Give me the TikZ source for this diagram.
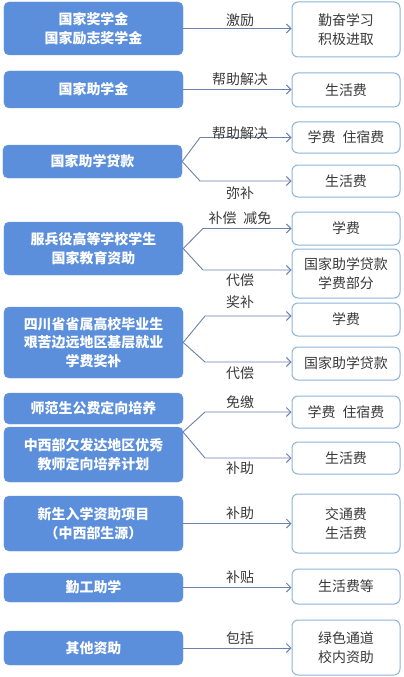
\documentclass[tikz,border=0pt]{standalone}
\usepackage{fontspec}
\newfontfamily\cjk{Noto Sans CJK SC}
\usetikzlibrary{arrows.meta}
\definecolor{lfill}{HTML}{5B8EDB}
\definecolor{rborder}{HTML}{8DB4D9}
\definecolor{arrcol}{HTML}{6C80AA}
\definecolor{txt}{HTML}{3A3A3A}
\tikzset{
  lbox/.style={draw=lfill!90!white, fill=lfill, rounded corners=5bp, minimum width=179bp,
    text=white, font=\cjk\bfseries\fontsize{14}{18.5}\selectfont, align=center, inner sep=0pt},
  rbox/.style={draw=rborder, fill=white, line width=1bp, rounded corners=6bp, minimum width=108bp,
    text=txt, font=\cjk\fontsize{14}{18.5}\selectfont, align=center, inner sep=0pt},
  lab/.style={text=txt, font=\cjk\fontsize{14}{16}\selectfont, inner sep=0pt},
  arr/.style={draw=arrcol, line width=0.9bp, -{Straight Barb[length=4.5bp,width=9bp,line width=0.9bp]}}
}
\begin{document}
\begin{tikzpicture}[x=1bp,y=-1bp]
\useasboundingbox (0,0) rectangle (403,677);
% left boxes
\node[lbox, minimum height=53bp] (l1) at (93.5,28.5) {国家奖学金\\国家励志奖学金};
\node[lbox, minimum height=37bp] (l2) at (93.5,89.5) {国家助学金};
\node[lbox, minimum height=33bp] (l3) at (92.5,161.5) {国家助学贷款};
\node[lbox, minimum height=53bp] (l4) at (93.5,248.5) {服兵役高等学校学生\\国家教育资助};
\node[lbox, minimum height=71bp] (l5) at (93.5,342.5) {四川省省属高校毕业生\\艰苦边远地区基层就业\\学费奖补};
\node[lbox, minimum height=31bp] (l6) at (93.5,408.5) {师范生公费定向培养};
\node[lbox, minimum height=55bp] (l7) at (93.5,454.5) {中西部欠发达地区优秀\\教师定向培养计划};
\node[lbox, minimum height=55bp] (l8) at (93.5,523.5) {新生入学资助项目\\（中西部生源）};
\node[lbox, minimum height=29bp] (l9) at (93.5,587.5) {勤工助学};
\node[lbox, minimum height=34bp] (l10) at (93.5,648) {其他资助};
% right boxes
\node[rbox, minimum height=55bp] (r1) at (346,29.5) {勤奋学习\\积极进取};
\node[rbox, minimum height=34bp] (r2) at (346,90) {生活费};
\node[rbox, minimum height=31bp] (r3a) at (346,137.5) {学费\hspace{0.5em}住宿费};
\node[rbox, minimum height=32bp] (r3b) at (346,181) {生活费};
\node[rbox, minimum height=33bp] (r4a) at (346,228.5) {学费};
\node[rbox, minimum height=49bp] (r4b) at (346,273.5) {国家助学贷款\\学费部分};
\node[rbox, minimum height=33bp] (r5a) at (346,319.5) {学费};
\node[rbox, minimum height=33bp] (r5b) at (346,363.5) {国家助学贷款};
\node[rbox, minimum height=32bp] (r6a) at (346,412) {学费\hspace{0.5em}住宿费};
\node[rbox, minimum height=32bp] (r6b) at (346,458) {生活费};
\node[rbox, minimum height=59bp] (r8) at (346,523.5) {交通费\\生活费};
\node[rbox, minimum height=35bp] (r9) at (346,586.5) {生活费等};
\node[rbox, minimum height=55bp] (r10) at (346,647.5) {绿色通道\\校内资助};
% bend coordinates
\coordinate (b3a) at (200,137.5);
\coordinate (b3b) at (200,181);
\coordinate (b4a) at (203,228.5);
\coordinate (b4b) at (203,270);
\coordinate (b5a) at (205,316);
\coordinate (b5b) at (205,362);
\coordinate (f7) at (183,432);
\coordinate (b6a) at (205,412);
\coordinate (b6b) at (205,458);
% connectors
\draw[arr] (l1.east) -- (l1.east -| r1.west);
\draw[arr] (l2.east) -- (l2.east -| r2.west);
\draw[arr] (l3.east) -- (b3a) -- (r3a.west);
\draw[arr] (l3.east) -- (b3b) -- (r3b.west);
\draw[arr] (l4.east) -- (b4a) -- (r4a.west);
\draw[arr] (l4.east) -- (b4b) -- (b4b -| r4b.west);
\draw[arr] (l5.east) -- (b5a) -- (b5a -| r5a.west);
\draw[arr] (l5.east) -- (b5b) -- (b5b -| r5b.west);
\draw[arr] (f7) -- (b6a) -- (r6a.west);
\draw[arr] (f7) -- (b6b) -- (r6b.west);
\draw[arr] (l8.east) -- (l8.east -| r8.west);
\draw[arr] (l9.east) -- (l9.east -| r9.west);
\draw[arr] (l10.east) -- (l10.east -| r10.west);
% labels
\node[lab] (t1) at (240,20) {激励};
\node[lab] (t2) at (240,79) {帮助解决};
\node[lab] (t3a) at (240,133) {帮助解决};
\node[lab] (t3b) at (240,193) {弥补};
\node[lab] (t4a) at (240,218) {补偿\hspace{0.5em}减免};
\node[lab] (t4b) at (240,280) {代偿};
\node[lab] (t5a) at (240,302) {奖补};
\node[lab] (t5b) at (240,373) {代偿};
\node[lab] (t6a) at (240,402) {免缴};
\node[lab] (t6b) at (240,468) {补助};
\node[lab] (t8) at (240,513) {补助};
\node[lab] (t9) at (240,577) {补贴};
\node[lab] (t10) at (240,638) {包括};
\end{tikzpicture}
\end{document}
